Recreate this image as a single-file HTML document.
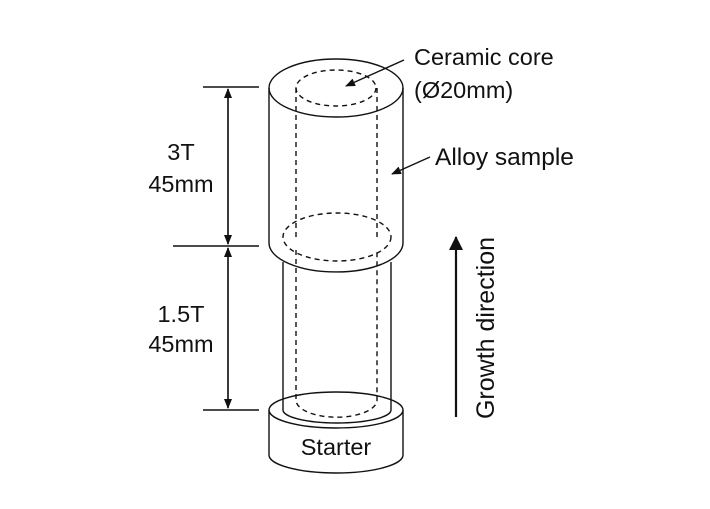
<!DOCTYPE html>
<html><head><meta charset="utf-8"><style>
html,body{margin:0;padding:0;background:#fff;}
svg{display:block;}
text{font-family:"Liberation Sans",sans-serif;font-size:23.5px;fill:#111;}
</style></head><body>
<svg width="710" height="509" viewBox="0 0 710 509" xmlns="http://www.w3.org/2000/svg">
<defs>
<marker id="a" markerWidth="10" markerHeight="10" refX="9" refY="5" orient="auto" markerUnits="userSpaceOnUse">
<path d="M0,1 L10,5 L0,9 z" fill="#111"/></marker>
<marker id="b" markerWidth="14" markerHeight="14" refX="13" refY="7" orient="auto" markerUnits="userSpaceOnUse">
<path d="M0,0 L14,7 L0,14 z" fill="#111"/></marker>
</defs>
<g stroke="#111" stroke-width="1.4" fill="none">
<path d="M269,410 L269,455 A67,18 0 0 0 403,455 L403,410"/>
<ellipse cx="336" cy="410" rx="67" ry="18" fill="#fff"/>
<path d="M283,262 L283,410 A54,13 0 0 0 391,410 L391,262"/>
<path d="M296,250 L296,400 A40,17 0 0 0 377,400 L377,250" stroke-dasharray="5,4"/>
<path d="M269,88 L269,243 A67,29 0 0 0 403,243 L403,88"/>
<ellipse cx="336" cy="88" rx="67" ry="29"/>
<ellipse cx="336" cy="88" rx="40" ry="18" stroke-dasharray="5,4"/>
<path d="M296,88 L296,237 M377,88 L377,237" stroke-dasharray="5,4"/>
<ellipse cx="337" cy="237" rx="54" ry="24" stroke-dasharray="5,4"/>
<path d="M203,87 L259,87 M173,246 L259,246 M203,410 L259,410"/>
<path d="M228,244 L228,89" marker-end="url(#a)"/>
<path d="M228,89 L228,244" marker-end="url(#a)"/>
<path d="M228,408 L228,248" marker-end="url(#a)"/>
<path d="M228,248 L228,408" marker-end="url(#a)"/>
<path d="M456,417 L456,237" stroke-width="2.2" marker-end="url(#b)"/>
<path d="M404,60 L346,86" marker-end="url(#a)"/>
<path d="M430,157 L392,174" marker-end="url(#a)"/>
</g>
<text x="181" y="160" text-anchor="middle">3T</text>
<text x="181" y="192" text-anchor="middle">45mm</text>
<text x="181" y="322" text-anchor="middle">1.5T</text>
<text x="181" y="352" text-anchor="middle">45mm</text>
<text x="336" y="455" text-anchor="middle">Starter</text>
<text x="414" y="65">Ceramic core</text>
<text x="414" y="98">(Ø20mm)</text>
<text x="435" y="165" style="font-size:24.5px">Alloy sample</text>
<text transform="translate(494,328) rotate(-90)" text-anchor="middle" style="font-size:25px">Growth direction</text>
</svg>
</body></html>
